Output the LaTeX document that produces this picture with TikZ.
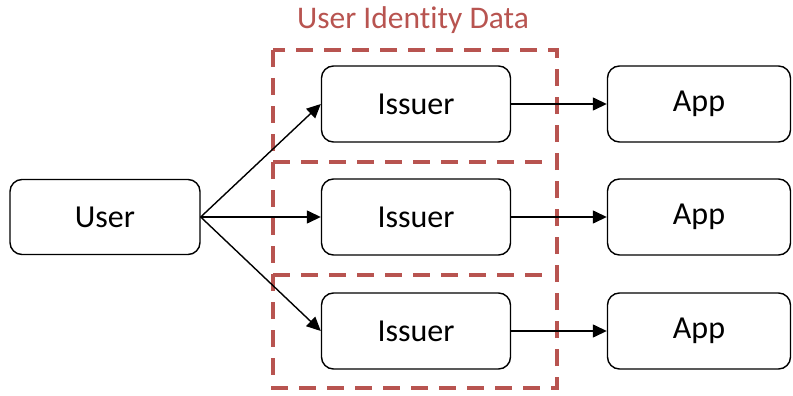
\documentclass[tikz,border=0pt]{standalone}
\usepackage{fontspec}
\setmainfont[Ligatures=NoCommon]{Carlito}
\usetikzlibrary{arrows.meta}
\definecolor{grpred}{RGB}{184,84,80}

\begin{document}
\begin{tikzpicture}[x=1pt, y=-1pt,
    box/.style={rectangle, draw, color=black, rounded corners=12pt, line width=1.4pt, font=\fontsize{32}{36}\selectfont},
    arr/.style={-{Triangle[length=14pt, width=13pt]}, line width=1.4pt},
    grp/.style={draw=grpred, line width=4.5pt, dash pattern=on 17pt off 11pt}]
    \useasboundingbox (0,0) rectangle (793,396);

    \node (T) at (413, 20) [color=grpred, font=\fontsize{31.5}{36}\selectfont] {User Identity Data};
    \draw[grp] (273, 50) rectangle (557, 388);
    \draw[grp] (273, 162) -- (547, 162);
    \draw[grp] (273, 275) -- (547, 275);

    %-----

    \node (U) at (105, 217) [box, minimum width=190pt, minimum height=75pt] {User};

    %-----

    \node (I1) at (416, 104) [box, minimum width=189pt, minimum height=76pt] {Issuer};
    \node (I2) at (416, 217) [box, minimum width=189pt, minimum height=76pt] {Issuer};
    \node (I3) at (416, 331) [box, minimum width=189pt, minimum height=76pt] {Issuer};

    \draw (U.east) edge[arr] (I1.west);
    \draw (U.east) edge[arr] (I2.west);
    \draw (U.east) edge[arr] (I3.west);

    %-----

    \node (A1) at (699, 104) [box, minimum width=183pt, minimum height=76pt] {App};
    \node (A2) at (699, 217) [box, minimum width=183pt, minimum height=76pt] {App};
    \node (A3) at (699, 331) [box, minimum width=183pt, minimum height=76pt] {App};

    \draw (I1) edge[arr] (A1);
    \draw (I2) edge[arr] (A2);
    \draw (I3) edge[arr] (A3);
\end{tikzpicture}
\end{document}
